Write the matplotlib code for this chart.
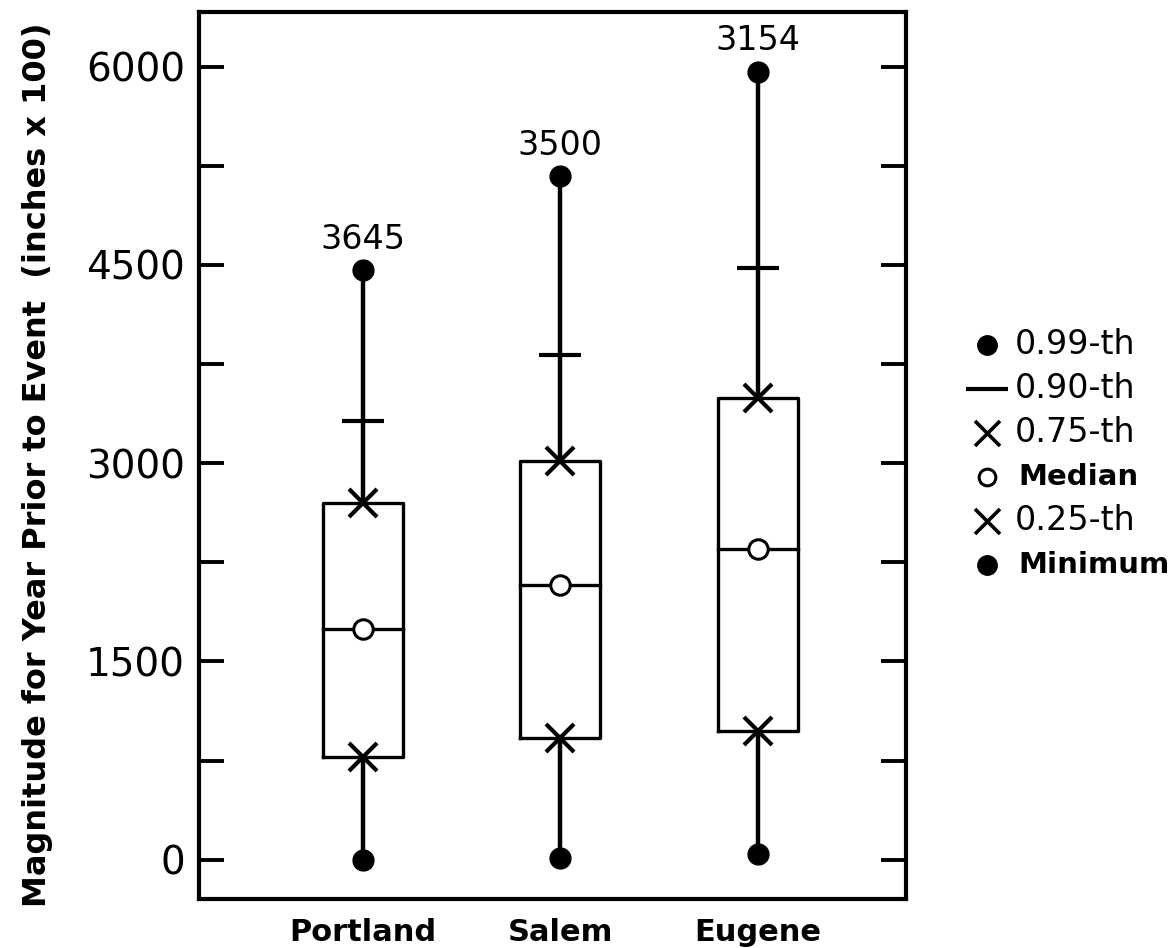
import matplotlib
matplotlib.use('Agg')
import matplotlib.pyplot as plt
from matplotlib.lines import Line2D

plt.rcParams['font.family'] = ['DejaVu Sans']

# Data
cities = ['Portland', 'Salem', 'Eugene']
n_events = ['3645', '3500', '3154']
p99 = [4460, 5170, 5960]
p90 = [3320, 3820, 4475]
p75 = [2700, 3015, 3490]
median = [1745, 2080, 2350]
p25 = [780, 920, 975]
minimum = [0, 15, 40]

legend_labels = ['0.99-th', '0.90-th', '0.75-th', 'Median', '0.25-th', 'Minimum']

fig = plt.figure(figsize=(11.72, 9.48), dpi=100)
ax = fig.add_axes([199 / 1172, 0.052, 707 / 1172, 0.935])

box_w = 0.405
xs = [1, 2, 3]
for x, hi, q9, q75, med, q25, lo, n in zip(xs, p99, p90, p75, median, p25, minimum, n_events):
    # whiskers
    ax.plot([x, x], [q75, hi], color='black', lw=3.2, zorder=2)
    ax.plot([x, x], [lo, q25], color='black', lw=3.2, zorder=2)
    # box
    ax.plot([x - box_w / 2, x + box_w / 2, x + box_w / 2, x - box_w / 2, x - box_w / 2],
            [q25, q25, q75, q75, q25], color='black', lw=2.4, zorder=2)
    ax.plot([x - box_w / 2, x + box_w / 2], [med, med], color='black', lw=2.4, zorder=2)
    # markers
    ax.plot(x, hi, 'o', color='black', ms=15, zorder=3)
    ax.plot(x, lo, 'o', color='black', ms=15, zorder=3)
    ax.plot(x, q9, '_', color='black', ms=30, mew=3, zorder=3)
    ax.plot([x, x], [q75, q25], 'x', color='black', ms=20, mew=3, zorder=3)
    ax.plot(x, med, 'o', mfc='white', mec='black', ms=14, mew=2.2, zorder=3)
    ax.text(x, hi + 110, n, ha='center', va='bottom', fontsize=24)

ax.set_xlim(0.17, 3.75)
ax.set_ylim(-295, 6410)
ax.set_xticks(xs)
ax.set_xticklabels(cities, fontsize=22, fontweight='bold')
ax.tick_params(axis='x', length=0, pad=14)
ax.set_yticks([0, 750, 1500, 2250, 3000, 3750, 4500, 5250, 6000])
ax.set_yticklabels(['0', '', '1500', '', '3000', '', '4500', '', '6000'], fontsize=28)
ax.tick_params(axis='y', direction='in', length=18, width=2.8, right=True, pad=10)
for s in ax.spines.values():
    s.set_linewidth(3)

fig.text(0.032, 0.51, 'Magnitude for Year Prior to Event  (inches x 100)',
         rotation=90, ha='center', va='center', fontsize=23, fontweight='bold')

# legend drawn by hand
markers = [dict(marker='o', color='black', ms=14),
           dict(marker='_', color='black', ms=30, mew=3),
           dict(marker='x', color='black', ms=18, mew=2.6),
           dict(marker='o', mfc='white', mec='black', ms=12, mew=2.2),
           dict(marker='x', color='black', ms=18, mew=2.6),
           dict(marker='o', color='black', ms=14)]
H = 948
for i, (lab, mk) in enumerate(zip(legend_labels, markers)):
    yf = 1 - (345 + i * 44) / H
    fig.add_artist(Line2D([987 / 1172], [yf], linestyle='none', transform=fig.transFigure, **mk))
    if lab in ('Median', 'Minimum'):
        fig.text(1018 / 1172, yf, lab, ha='left', va='center', fontsize=21, fontweight='bold')
    else:
        fig.text(1015 / 1172, yf, lab, ha='left', va='center', fontsize=24)

fig.savefig('out.png', dpi=100)
